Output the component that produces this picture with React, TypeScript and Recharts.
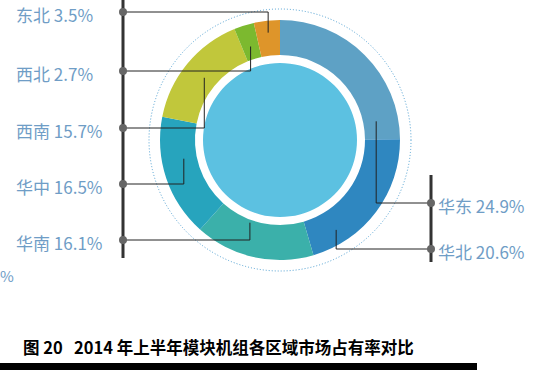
import React from "react";
import { PieChart, Pie, Cell } from "recharts";

// 2014 H1 modular unit market share by region
const regions = ["华东", "华北", "华南", "华中", "西南", "西北", "东北"];
const shares = [24.9, 20.6, 16.1, 16.5, 15.7, 2.7, 3.5];
const colors = ["#5ea1c5", "#2f87c0", "#3bb0aa", "#27a4bd", "#c1c73b", "#7cb92f", "#de952a"];

const data = regions.map((name, i) => ({ name, value: shares[i] }));
const core = [{ name: "core", value: 1 }];

const W = 535;
const H = 374;
const CX = 280;
const CY = 140;
const LEFT_BAR_X = 123;
const RIGHT_BAR_X = 431;
const labelColor = "#6f9dc6";
const font = '"Noto Sans CJK SC", "Noto Sans", sans-serif';

// callout placement (angle clockwise from 12 o'clock, px radius); defaults to the slice middle
const callouts: Record<string, { side: "left" | "right"; y: number; angle?: number; r?: number }> = {
  华东: { side: "right", y: 203, angle: 79, r: 98 },
  华北: { side: "right", y: 249, angle: 148, r: 106 },
  华南: { side: "left", y: 240, angle: 200, r: 88 },
  华中: { side: "left", y: 184, angle: 259 },
  西南: { side: "left", y: 128 },
  西北: { side: "left", y: 71 },
  东北: { side: "left", y: 12, r: 108 },
};

function renderCallout(props: any) {
  const { cx, cy, midAngle } = props;
  const name = props.payload?.name ?? props.name;
  const value = props.payload?.value ?? props.value;
  const c = callouts[name];
  if (!c) return null;
  const a = ((c.angle ?? 90 - midAngle) * Math.PI) / 180;
  const r = c.r ?? 98;
  const ax = cx + r * Math.sin(a);
  const ay = cy - r * Math.cos(a);
  const bx = c.side === "left" ? LEFT_BAR_X : RIGHT_BAR_X;
  return (
    <g>
      <polyline
        points={`${bx},${c.y} ${ax},${c.y} ${ax},${ay}`}
        fill="none"
        stroke="#222"
        strokeWidth={1}
      />
      <circle cx={bx} cy={c.y} r={4} fill="#666" />
      <text
        x={c.side === "left" ? 16 : 438}
        y={c.y + 2}
        dominantBaseline="central"
        fontSize={17}
        fontFamily={font}
        fill={labelColor}
      >
        {`${name} ${value}%`}
      </text>
    </g>
  );
}

export default function App() {
  return (
    <div style={{ position: "absolute", left: 0, top: 0, width: W, height: H, background: "#fff" }}>
      <svg width={W} height={H} style={{ position: "absolute", left: 0, top: 0 }}>
        <circle cx={CX} cy={CY} r={131} fill="none" stroke="#4d9fd2" strokeWidth={1} strokeDasharray="1 2" />
        <rect x={LEFT_BAR_X - 1.5} y={0} width={3} height={258} fill="#333" />
        <rect x={RIGHT_BAR_X - 1.5} y={175} width={3} height={87} fill="#333" />
        <text x={0} y={275} dominantBaseline="central" fontSize={15} fontFamily={font} fill={labelColor}>
          %
        </text>
        <rect x={0} y={363} width={477} height={7} fill="#000" />
        <text x={23} y={354} fontSize={16.5} fontWeight={700} fontFamily={font} fill="#000">
          图 20{"\u00a0\u00a0\u00a0"}2014 年上半年模块机组各区域市场占有率对比
        </text>
      </svg>
      <div style={{ position: "absolute", left: 0, top: 0 }}>
        <PieChart width={W} height={H} margin={{ top: 0, right: 0, bottom: 0, left: 0 }}>
          <Pie
            data={core}
            dataKey="value"
            cx={CX}
            cy={CY}
            innerRadius={0}
            outerRadius={77}
            fill="#5cc1e1"
            stroke="none"
            isAnimationActive={false}
          />
          <Pie
            data={data}
            dataKey="value"
            nameKey="name"
            cx={CX}
            cy={CY}
            innerRadius={85}
            outerRadius={120}
            startAngle={90}
            endAngle={-270}
            stroke="none"
            label={renderCallout}
            labelLine={false}
            isAnimationActive={false}
          >
            {data.map((d, i) => (
              <Cell key={d.name} fill={colors[i]} />
            ))}
          </Pie>
        </PieChart>
      </div>
    </div>
  );
}
